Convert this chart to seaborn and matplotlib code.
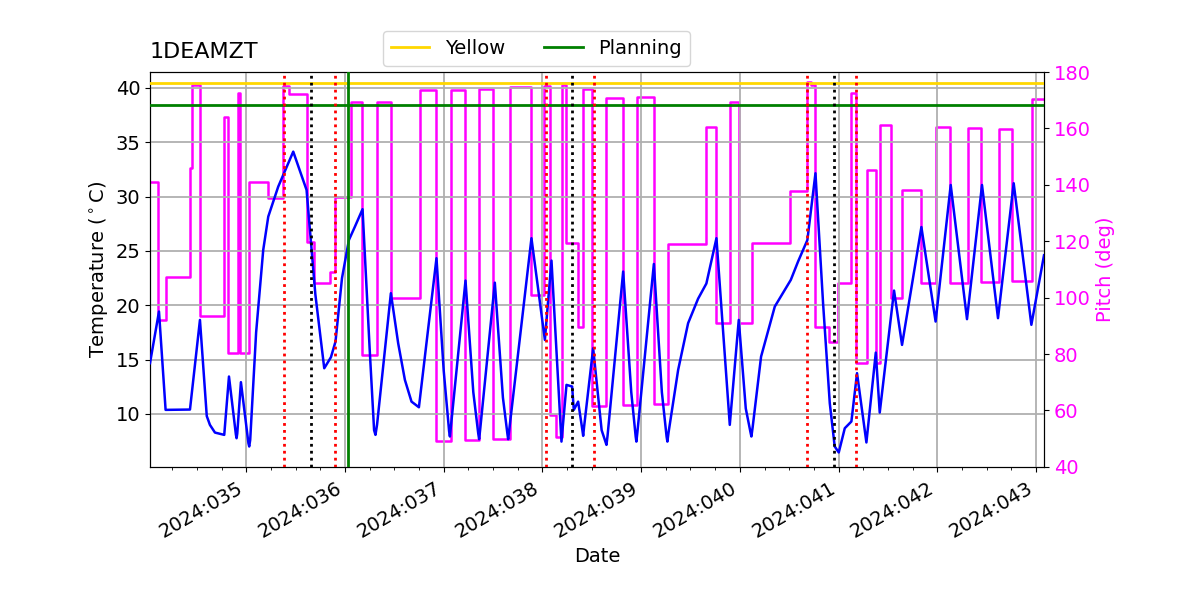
import datetime as dt
import numpy as np
import pandas as pd
import matplotlib
matplotlib.use("Agg")
import matplotlib.pyplot as plt
import matplotlib.dates as mdates
from matplotlib.lines import Line2D
import seaborn as sns

# ---- data (day of year 2024) ----
temp_days = [34.025, 34.116, 34.183, 34.430, 34.531, 34.600, 34.632, 34.683, 34.777, 34.825,
             34.895, 34.902, 34.909, 34.946, 35.022, 35.030, 35.040, 35.100, 35.172, 35.223,
             35.324, 35.476, 35.611, 35.700, 35.790, 35.858, 35.904, 35.970, 36.040, 36.101,
             36.178, 36.250, 36.295, 36.309, 36.325, 36.465, 36.539, 36.607, 36.674, 36.749,
             36.927, 37.000, 37.055, 37.063, 37.075, 37.221, 37.300, 37.350, 37.359, 37.370,
             37.518, 37.600, 37.645, 37.653, 37.665, 37.889, 38.025, 38.092, 38.193, 38.244,
             38.301, 38.318, 38.362, 38.405, 38.413, 38.422, 38.514, 38.600, 38.640, 38.649,
             38.660, 38.818, 38.900, 38.945, 38.952, 38.962, 39.129, 39.210, 39.258, 39.266,
             39.278, 39.375, 39.476, 39.577, 39.661, 39.763, 39.898, 39.989, 40.060, 40.108,
             40.117, 40.130, 40.215, 40.354, 40.516, 40.590, 40.684, 40.766, 40.843, 40.911,
             40.961, 41.002, 41.063, 41.130, 41.187, 41.282, 41.377, 41.417, 41.562, 41.643,
             41.839, 41.983, 42.136, 42.301, 42.453, 42.615, 42.774, 42.953, 43.081]
temp_vals = [14.67, 19.42, 10.37, 10.40, 18.65, 9.80, 8.99, 8.28, 8.07, 13.44,
             8.10, 7.76, 8.20, 12.92, 7.30, 7.00, 7.60, 17.50, 25.09, 28.16,
             30.92, 34.14, 30.61, 21.00, 14.20, 15.22, 16.65, 22.50, 26.01, 27.24,
             28.84, 16.00, 8.50, 8.07, 9.00, 21.11, 16.50, 13.13, 11.13, 10.61,
             24.33, 14.00, 8.40, 7.92, 9.00, 22.27, 12.00, 8.20, 7.67, 8.60,
             22.08, 11.50, 8.20, 7.67, 8.60, 26.17, 16.81, 24.11, 7.45, 12.67,
             12.52, 10.37, 11.13, 8.50, 7.98, 8.80, 16.04, 8.50, 7.40, 7.15,
             8.00, 23.10, 12.00, 7.90, 7.45, 8.30, 23.80, 12.00, 7.90, 7.45,
             8.30, 14.05, 18.35, 20.60, 22.00, 26.17, 8.99, 18.65, 10.50, 8.30,
             7.92, 8.80, 15.27, 19.88, 22.33, 24.03, 26.00, 32.15, 20.19, 10.98,
             7.00, 6.45, 8.68, 9.30, 13.75, 7.37, 15.64, 10.12, 21.35, 16.35,
             27.20, 18.50, 31.07, 18.72, 31.07, 18.81, 31.23, 18.20, 24.60]

pitch_days = [34.025, 34.109, 34.183, 34.430, 34.446, 34.531, 34.777, 34.818, 34.912, 34.936,
              35.027, 35.216, 35.375, 35.432, 35.611, 35.689, 35.848, 35.904, 36.060, 36.175,
              36.320, 36.465, 36.759, 36.927, 37.079, 37.215, 37.359, 37.501, 37.670, 37.889,
              38.013, 38.078, 38.134, 38.197, 38.241, 38.357, 38.408, 38.504, 38.649, 38.818,
              38.963, 39.129, 39.273, 39.661, 39.763, 39.898, 39.989, 40.124, 40.506, 40.684,
              40.725, 40.759, 40.901, 40.995, 41.124, 41.180, 41.292, 41.377, 41.417, 41.535,
              41.643, 41.839, 41.990, 42.126, 42.311, 42.440, 42.625, 42.760, 42.963, 43.081]
pitch_vals = [141.1, 92.1, 107.4, 146.0, 175.4, 93.3, 164.2, 80.3, 172.7, 80.3,
              141.1, 135.2, 175.0, 172.2, 119.8, 105.1, 109.2, 135.8, 169.3, 79.7,
              169.5, 99.8, 173.6, 49.2, 173.6, 49.5, 174.1, 49.7, 174.8, 101.0,
              175.0, 58.4, 50.7, 175.4, 119.2, 89.7, 174.0, 61.6, 170.7, 62.0,
              171.0, 62.2, 118.9, 160.6, 91.1, 169.3, 91.1, 119.3, 137.9, 176.6,
              175.4, 89.7, 84.4, 105.1, 172.7, 76.7, 145.3, 76.7, 161.2, 100.0,
              138.2, 105.1, 160.4, 105.2, 160.2, 105.7, 159.9, 105.9, 170.3, 170.3]

red_events = [35.378, 35.904, 38.035, 38.521, 40.684, 41.180]
black_events = [35.651, 38.304, 40.951]
green_events = [36.033]

yellow_limit = 40.43
planning_limit = 38.44
title_text = "1DEAMZT"


def to_dt(days):
    base = dt.datetime(2024, 1, 1)
    return [base + dt.timedelta(days=d - 1) for d in days]


temp_df = pd.DataFrame({"time": to_dt(temp_days), "temp": temp_vals})
pitch_df = pd.DataFrame({"time": to_dt(pitch_days), "pitch": pitch_vals})

FS = 14

fig, ax = plt.subplots(figsize=(12, 6), dpi=100)
fig.subplots_adjust(left=0.125, right=0.87, top=0.88, bottom=0.222)

ax.grid(True, color="#b0b0b0", linewidth=1.3, zorder=0)
ax.set_axisbelow(True)

sns.lineplot(data=temp_df, x="time", y="temp", ax=ax, color="blue",
             linewidth=1.8, sort=False, estimator=None, zorder=3)

ax.axhline(yellow_limit, color="#FFD700", linewidth=2, zorder=4)
ax.axhline(planning_limit, color="green", linewidth=2, zorder=4)

for d in to_dt(red_events):
    ax.axvline(d, color="red", linestyle=(0, (1, 1.5)), linewidth=2, zorder=4)
for d in to_dt(black_events):
    ax.axvline(d, color="black", linestyle=(0, (1, 1.5)), linewidth=2, zorder=4)
for d in to_dt(green_events):
    ax.axvline(d, color="green", linewidth=2, zorder=4)

ax2 = ax.twinx()
sns.lineplot(data=pitch_df, x="time", y="pitch", ax=ax2, color="magenta",
             linewidth=1.8, sort=False, estimator=None, drawstyle="steps-post")
ax2.set_ylim(40, 180)
ax2.set_ylabel("Pitch (deg)", color="magenta", fontsize=FS)
ax2.tick_params(axis="y", labelcolor="magenta", labelsize=FS)

# keep temperature line above pitch
ax.set_zorder(ax2.get_zorder() + 1)
ax.patch.set_visible(False)

ax.set_ylim(5.13, 41.47)
t = to_dt([temp_days[0], temp_days[-1]])
ax.set_xlim(t[0], t[1])
ax.xaxis.set_major_locator(mdates.DayLocator())
ax.xaxis.set_minor_locator(mdates.HourLocator(byhour=[0, 6, 12, 18]))
ax.xaxis.set_major_formatter(mdates.DateFormatter("%Y:%j"))
ax.tick_params(axis="both", labelsize=FS)
ax.tick_params(axis="x", pad=5)
for lab in ax.get_xticklabels():
    lab.set_rotation(30)
    lab.set_ha("right")

ax.set_xlabel("Date", fontsize=FS)
ax.set_ylabel("Temperature ($^\\circ$C)", fontsize=FS)
ax.set_title(title_text, loc="left", fontsize=16, pad=10)

handles = [Line2D([], [], color="#FFD700", linewidth=2),
           Line2D([], [], color="green", linewidth=2)]
fig.legend(handles, ["Yellow", "Planning"], loc="lower center",
           bbox_to_anchor=(0.447, 0.89), borderaxespad=0, ncol=2, fontsize=FS)

fig.savefig("out.png", dpi=100)
